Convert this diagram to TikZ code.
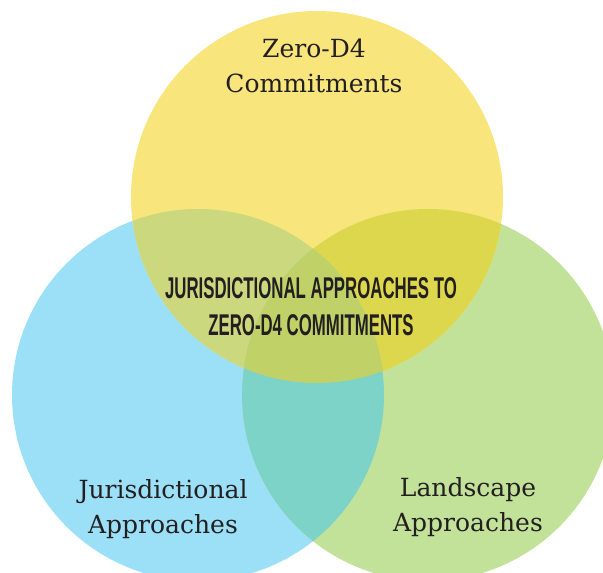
\documentclass[tikz,border=0pt]{standalone}
\usepackage{fontspec}
\setmainfont{DejaVu Serif}
\newfontfamily\condfont[FakeStretch=0.56]{Liberation Sans}
\usepackage{tikz}
\definecolor{zeroyellow}{HTML}{F8E57C}
\definecolor{jurisblue}{HTML}{9CE0F8}
\definecolor{landgreen}{HTML}{C2E199}
\definecolor{zerojuris}{HTML}{CBD87E}
\definecolor{zeroland}{HTML}{DDD74D}
\definecolor{jurisland}{HTML}{7DD3C8}
\definecolor{allthree}{HTML}{C0D267}
\definecolor{inkgray}{HTML}{231F20}
\def\rad{186pt}
\tikzset{
	circlabel/.style={align=center, text=inkgray, inner sep=0pt,
		font=\fontsize{25}{35}\selectfont},
	midlabel/.style={align=center, text=inkgray, inner sep=0pt,
		font=\condfont\bfseries\fontsize{30}{37}\selectfont}
}

\begin{document}
\begin{tikzpicture}[x=1pt, y=-1pt]
			%%%%% START %%%%%
			
			\useasboundingbox (0, 0) rectangle (603, 573);
			\clip (0, 0) rectangle (603, 573);
			
			\coordinate (zero) at (317, 197);
			\coordinate (juris) at (198, 395);
			\coordinate (land) at (428, 395);
			
			\fill[jurisblue] (juris) circle[radius=\rad];
			\fill[landgreen] (land) circle[radius=\rad];
			\fill[zeroyellow] (zero) circle[radius=\rad];
			
			\begin{scope}
				\clip (zero) circle[radius=\rad];
				\fill[zerojuris] (juris) circle[radius=\rad];
				\fill[zeroland] (land) circle[radius=\rad];
			\end{scope}
			\begin{scope}
				\clip (juris) circle[radius=\rad];
				\fill[jurisland] (land) circle[radius=\rad];
			\end{scope}
			\begin{scope}
				\clip (zero) circle[radius=\rad];
				\clip (juris) circle[radius=\rad];
				\fill[allthree] (land) circle[radius=\rad];
			\end{scope}
			
			\node[circlabel] (zerotext) at (314, 66) {Zero-D4\\Commitments};
			\node[circlabel] (juristext) at (163, 509) {Jurisdictional\\Approaches};
			\node[circlabel] (landtext) at (468, 507) {Landscape\\Approaches};
			
			\node[midlabel] (title) at (311, 307) {JURISDICTIONAL APPROACHES TO\\ZERO-D4 COMMITMENTS};
			
			%%%%% END %%%%%
\end{tikzpicture}
\end{document}
